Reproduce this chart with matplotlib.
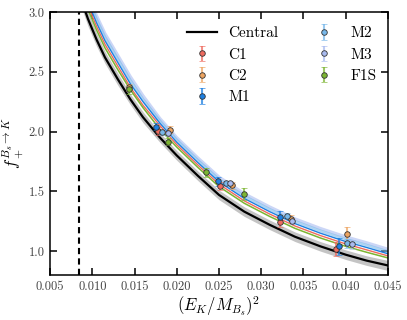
import numpy as np
import matplotlib
matplotlib.use("Agg")
import matplotlib.pyplot as plt

plt.rcParams['font.family'] = 'serif'
plt.rcParams['font.serif'] = ['cmr10', 'DejaVu Serif']
plt.rcParams['mathtext.fontset'] = 'cm'
plt.rcParams['axes.formatter.use_mathtext'] = True

# ---- data ----
x_curve = [0.0088, 0.0095, 0.0105, 0.0115, 0.0130, 0.0145, 0.0160, 0.0180, 0.0200,
           0.0225, 0.0250, 0.0280, 0.0310, 0.0340, 0.0370, 0.0400, 0.0425, 0.0450]
central = [3.08, 2.94, 2.77, 2.62, 2.44, 2.27, 2.12, 1.95, 1.80,
           1.63, 1.47, 1.33, 1.22, 1.12, 1.04, 0.97, 0.92, 0.88]
central_err = [0.06, 0.06, 0.055, 0.05, 0.05, 0.045, 0.045, 0.04, 0.04,
               0.04, 0.04, 0.04, 0.04, 0.04, 0.04, 0.04, 0.04, 0.042]
curve_F1S = [3.16, 3.02, 2.85, 2.70, 2.52, 2.35, 2.20, 2.02, 1.87,
             1.70, 1.54, 1.40, 1.29, 1.19, 1.11, 1.04, 0.99, 0.943]
curve_C1 = [3.19, 3.05, 2.88, 2.73, 2.55, 2.37, 2.22, 2.05, 1.89,
            1.72, 1.56, 1.42, 1.31, 1.21, 1.13, 1.06, 1.01, 0.96]
curve_M1 = [3.22, 3.08, 2.91, 2.76, 2.58, 2.40, 2.25, 2.07, 1.91,
            1.74, 1.58, 1.44, 1.33, 1.23, 1.15, 1.08, 1.03, 0.978]
curve_M2 = [3.25, 3.11, 2.94, 2.79, 2.61, 2.43, 2.27, 2.09, 1.93,
            1.76, 1.60, 1.46, 1.35, 1.25, 1.17, 1.10, 1.05, 0.996]
curve_M3 = [3.28, 3.14, 2.97, 2.82, 2.64, 2.46, 2.30, 2.11, 1.95,
            1.78, 1.62, 1.48, 1.37, 1.27, 1.19, 1.12, 1.07, 1.016]

x_pole = 0.00847

C1_x = [0.0178, 0.0251, 0.0322, 0.0389]
C1_y = [2.004, 1.544, 1.245, 1.020]
C1_e = [0.03, 0.035, 0.04, 0.06]
C2_x = [0.0144, 0.0192, 0.0265, 0.0335, 0.0402]
C2_y = [2.37, 2.015, 1.552, 1.268, 1.139]
C2_e = [0.03, 0.03, 0.03, 0.03, 0.06]
M1_x = [0.0175, 0.0249, 0.0322, 0.0392]
M1_y = [2.040, 1.583, 1.287, 1.040]
M1_e = [0.03, 0.035, 0.045, 0.07]
M2_x = [0.0183, 0.0258, 0.0331, 0.0402]
M2_y = [1.993, 1.566, 1.293, 1.064]
M2_e = [0.02, 0.02, 0.025, 0.04]
M3_x = [0.0190, 0.0263, 0.0337, 0.0408]
M3_y = [1.985, 1.566, 1.251, 1.056]
M3_e = [0.02, 0.02, 0.025, 0.04]
F1S_x = [0.0144, 0.0190, 0.0235, 0.0280]
F1S_y = [2.353, 1.915, 1.659, 1.477]
F1S_e = [0.04, 0.03, 0.04, 0.05]

xticks = [0.005, 0.010, 0.015, 0.020, 0.025, 0.030, 0.035, 0.040, 0.045]
yticks = [1.0, 1.5, 2.0, 2.5, 3.0]

col = {'C1': '#ee6a5e', 'C2': '#eda461', 'M1': '#1e7fe0', 'M2': '#78b8ea',
       'M3': '#a9bbf0', 'F1S': '#7cb532'}

fig = plt.figure(figsize=(4.07, 3.2), dpi=100)
ax = fig.add_axes([0.123, 0.1406, 0.830, 0.822])

xc = np.array(x_curve)
cc = np.array(central)
ce = np.array(central_err)
ax.fill_between(xc, cc - ce, cc + ce, color='#c4c4c4', lw=0, zorder=1)
ax.plot(xc, curve_M3, color=col['M3'], lw=2.2, alpha=0.6, zorder=2)
ax.plot(xc, curve_M2, color=col['M2'], lw=2.0, alpha=0.6, zorder=2)
ax.plot(xc, curve_M1, color=col['M1'], lw=1.0, zorder=2)
ax.plot(xc, curve_C1, color=col['C1'], lw=1.0, zorder=2)
ax.plot(xc, curve_F1S, color=col['F1S'], lw=1.1, zorder=2)
ax.plot(xc, cc, color='black', lw=1.6, zorder=3, label='Central')
ax.axvline(x_pole, color='black', lw=1.5, ls=(0, (3, 2)), zorder=3)

def pts(x, y, e, name):
    c = col[name]
    ax.errorbar(x, y, yerr=e, fmt='o', ms=4, mfc=c, mec='#333333', mew=0.6,
                ecolor=matplotlib.colors.to_rgba(c, 0.75), elinewidth=1.5,
                capsize=2, capthick=1.0, zorder=5, label=name)

pts(C1_x, C1_y, C1_e, 'C1')
pts(C2_x, C2_y, C2_e, 'C2')
pts(M1_x, M1_y, M1_e, 'M1')
pts(M2_x, M2_y, M2_e, 'M2')
pts(M3_x, M3_y, M3_e, 'M3')
pts(F1S_x, F1S_y, F1S_e, 'F1S')

ax.set_xlim(0.005, 0.045)
ax.set_ylim(0.8, 3.0)
ax.set_xticks(xticks)
ax.set_xticklabels([f"{t:.3f}" for t in xticks])
ax.set_yticks(yticks)
ax.set_yticklabels([f"{t:.1f}" for t in yticks])
ax.tick_params(direction='in', length=5, width=1.1, top=True, right=True,
               labelsize=9, pad=4, labelcolor='#444444')
for s in ax.spines.values():
    s.set_linewidth(1.1)

ax.set_xlabel(r'$(E_K/M_{B_s})^2$', fontsize=12, labelpad=1)
ax.set_ylabel(r'$f_+^{B_s\to K}$', fontsize=12, labelpad=2)

ax.legend(ncol=2, loc='upper left', frameon=False, fontsize=11,
          handlelength=2.0, handletextpad=0.72, columnspacing=2.0,
          labelspacing=0.5, borderpad=0.4, bbox_to_anchor=(0.364, 0.997))

fig.savefig('out.png', dpi=100)
